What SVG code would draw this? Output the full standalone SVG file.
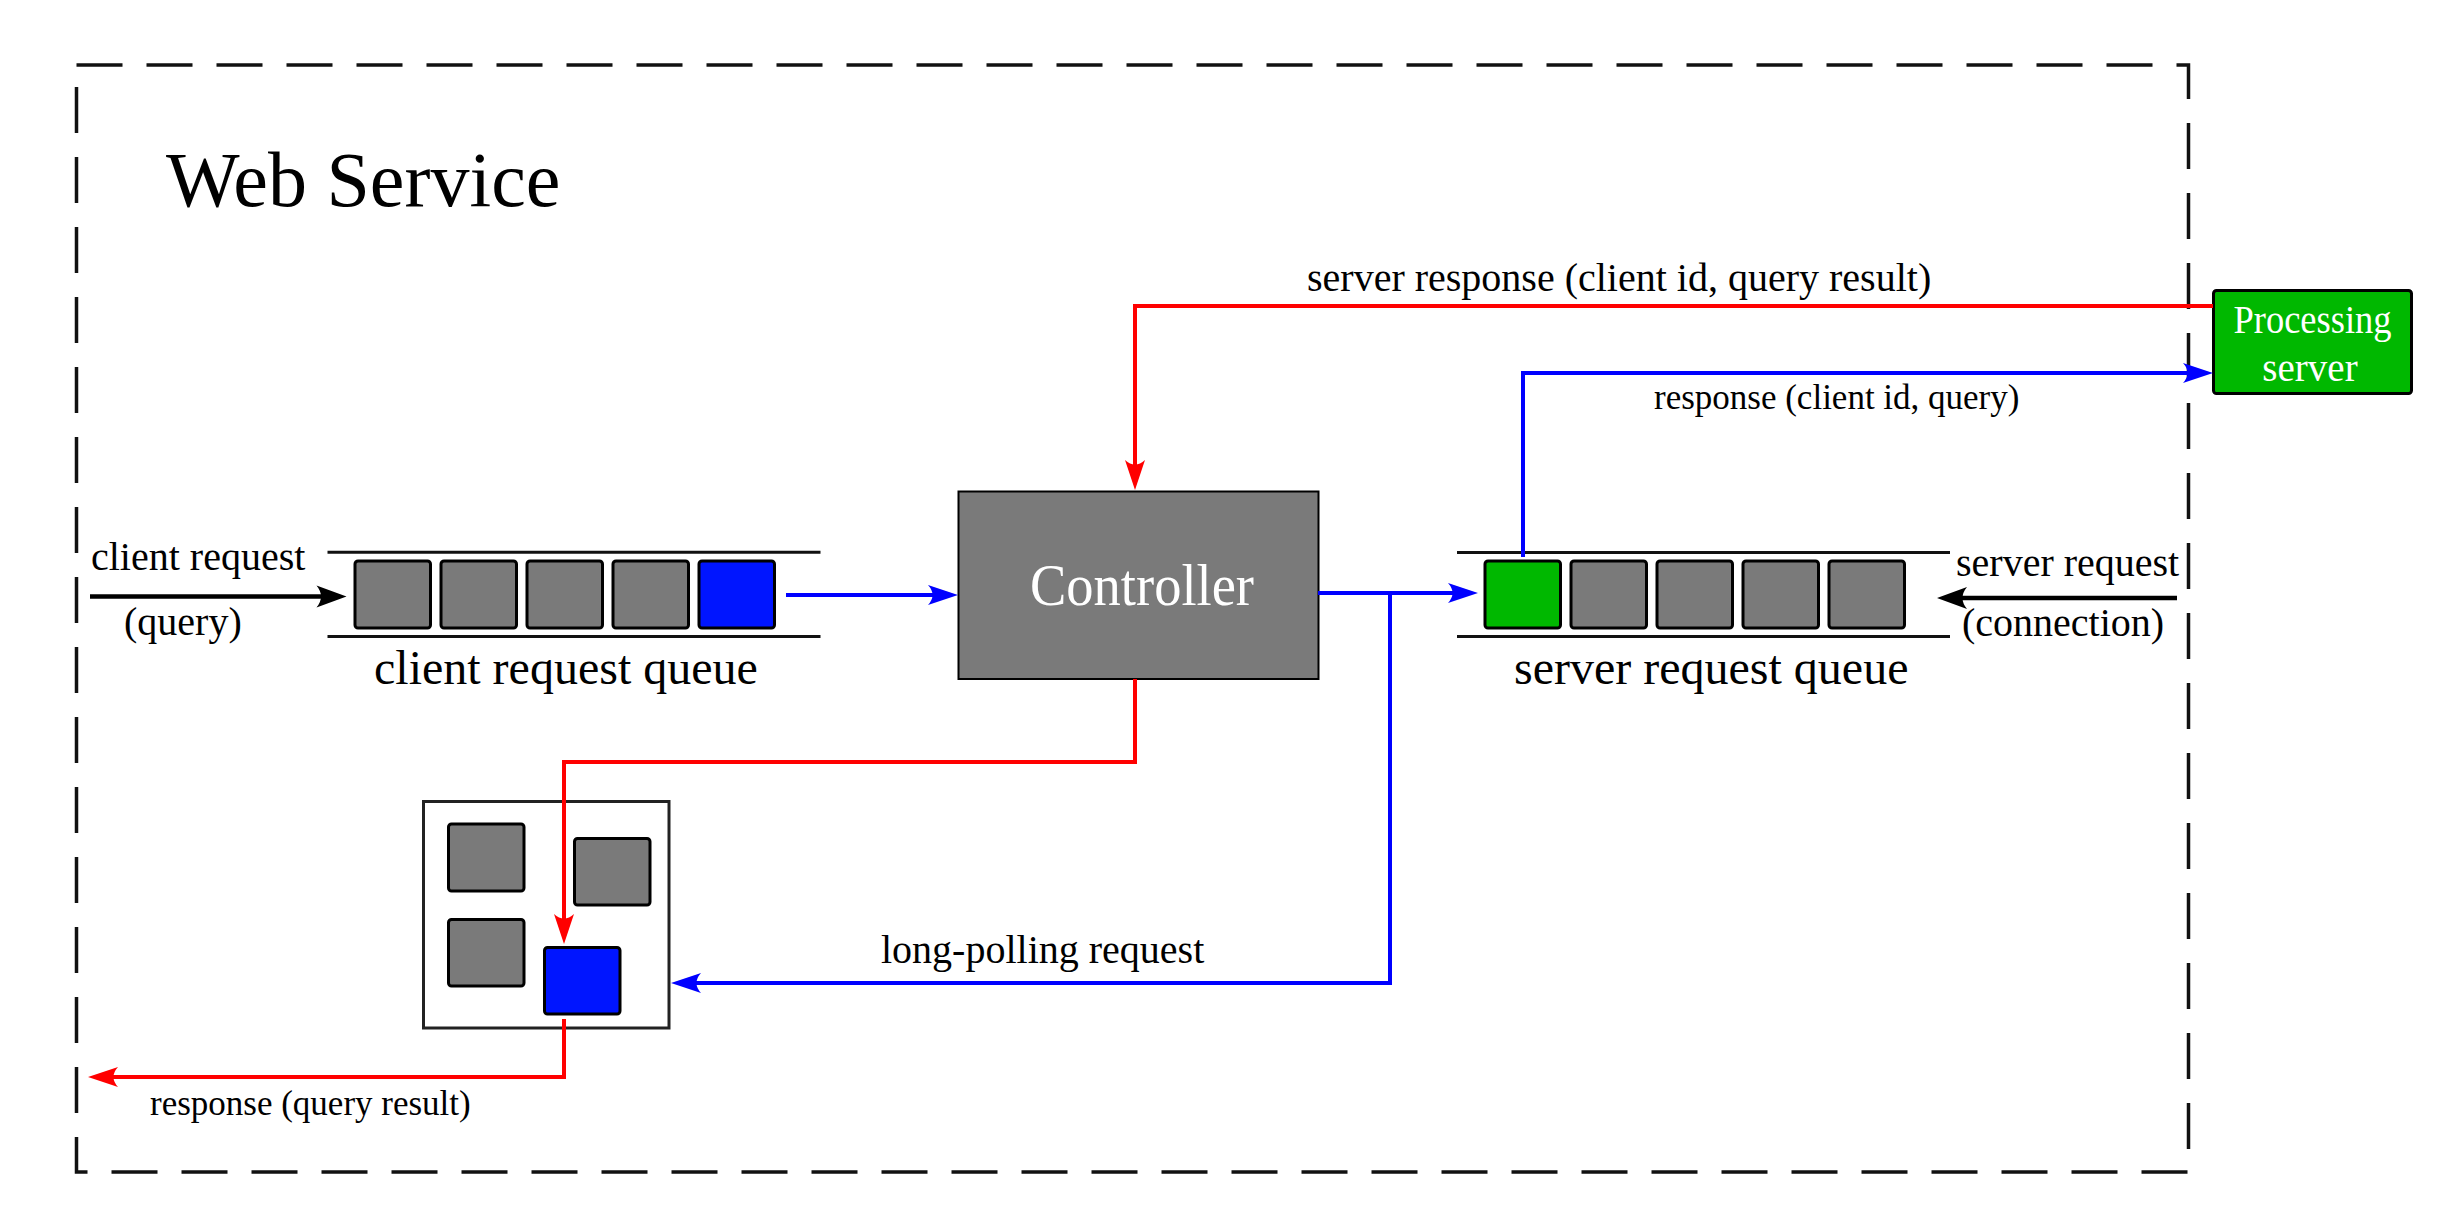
<svg xmlns="http://www.w3.org/2000/svg" width="2446" height="1228" viewBox="0 0 2446 1228">
<style>
  text { font-family: "Liberation Serif", "Times New Roman", serif; fill: #000; }
  .lbl { font-size: 40px; }
  .lbls { font-size: 35px; }
  .qlbl { font-size: 48px; }
  .cell { fill: #7a7a7a; stroke: #000; stroke-width: 3; }
  .cellb { fill: #0015ff; stroke: #000; stroke-width: 3; }
  .cellg { fill: #00b800; stroke: #000; stroke-width: 3; }
  .qline { stroke: #111; stroke-width: 3; }
  .red { fill: none; stroke: #ff0000; stroke-width: 4; marker-end: url(#ahr); }
  .blue { fill: none; stroke: #0000ff; stroke-width: 4; marker-end: url(#ahb); }
  .black { fill: none; stroke: #000; stroke-width: 4.7; marker-end: url(#ahk); }
</style>
<defs>
  <marker id="ahr" viewBox="-30 -15 40 30" refX="0" refY="0" markerUnits="userSpaceOnUse" markerWidth="40" markerHeight="30" orient="auto">
    <path d="M8,0 L-22,-10 Q-13,0 -22,10 Z" fill="#ff0000"/>
  </marker>
  <marker id="ahb" viewBox="-30 -15 40 30" refX="0" refY="0" markerUnits="userSpaceOnUse" markerWidth="40" markerHeight="30" orient="auto">
    <path d="M8,0 L-22,-10 Q-13,0 -22,10 Z" fill="#0000ff"/>
  </marker>
  <marker id="ahk" viewBox="-30 -15 40 30" refX="0" refY="0" markerUnits="userSpaceOnUse" markerWidth="40" markerHeight="30" orient="auto">
    <path d="M8,0 L-22,-11 Q-13,0 -22,11 Z" fill="#000"/>
  </marker>
</defs>
<rect width="2446" height="1228" fill="#fff"/>

<g id="web-service">
  <rect x="76.5" y="65" width="2112" height="1107" fill="none" stroke="#111" stroke-width="3.5" stroke-dasharray="46 24"/>
  <text x="166" y="206" font-size="78">Web Service</text>
</g>

<g id="client-request-queue">
  <line class="qline" x1="327.5" y1="552.3" x2="820.5" y2="552.3"/>
  <line class="qline" x1="327.5" y1="636.5" x2="820.5" y2="636.5"/>
  <rect class="cell" x="355" y="561" width="75.5" height="67" rx="3"/>
  <rect class="cell" x="441" y="561" width="75.5" height="67" rx="3"/>
  <rect class="cell" x="527" y="561" width="75.5" height="67" rx="3"/>
  <rect class="cell" x="613" y="561" width="75.5" height="67" rx="3"/>
  <rect class="cellb" x="699" y="561" width="75.5" height="67" rx="3"/>
  <text class="qlbl" x="374" y="684">client request queue</text>
</g>

<g id="controller">
  <rect x="958.5" y="491.5" width="360" height="187.5" fill="#7a7a7a" stroke="#000" stroke-width="2"/>
  <text x="1142" y="605" font-size="60" text-anchor="middle" textLength="224" lengthAdjust="spacingAndGlyphs" style="fill:#fff">Controller</text>
</g>

<g id="server-request-queue">
  <line class="qline" x1="1457" y1="552.5" x2="1950" y2="552.5"/>
  <line class="qline" x1="1457" y1="636.5" x2="1950" y2="636.5"/>
  <rect class="cellg" x="1485" y="561" width="75.5" height="67" rx="3"/>
  <rect class="cell" x="1571" y="561" width="75.5" height="67" rx="3"/>
  <rect class="cell" x="1657" y="561" width="75.5" height="67" rx="3"/>
  <rect class="cell" x="1743" y="561" width="75.5" height="67" rx="3"/>
  <rect class="cell" x="1829" y="561" width="75.5" height="67" rx="3"/>
  <text class="qlbl" x="1514" y="684">server request queue</text>
</g>

<g id="processing-server">
  <rect x="2213.5" y="290.5" width="198" height="103" rx="3" fill="#00b800" stroke="#000" stroke-width="3"/>
  <text x="2312.5" y="332.7" font-size="39" text-anchor="middle" textLength="158" lengthAdjust="spacingAndGlyphs" style="fill:#fff">Processing</text>
  <text x="2310" y="380.7" font-size="39" text-anchor="middle" style="fill:#fff">server</text>
</g>

<g id="long-polling-pool">
  <rect x="423.5" y="801.5" width="245.5" height="226.5" fill="#fff" stroke="#222" stroke-width="3"/>
  <rect class="cell" x="448.5" y="824" width="75.5" height="67" rx="3"/>
  <rect class="cell" x="574.5" y="838.5" width="75.5" height="66.5" rx="3"/>
  <rect class="cell" x="448.5" y="919.5" width="75.5" height="66.5" rx="3"/>
  <rect class="cellb" x="544.5" y="947.5" width="75.5" height="66.5" rx="3"/>
</g>

<g id="connectors">
  <line class="black" x1="90" y1="596.5" x2="338.5" y2="596.5"/>
  <line class="black" x1="2177" y1="598" x2="1945" y2="598"/>
  <line class="blue" x1="786" y1="595" x2="950" y2="595"/>
  <line class="blue" x1="1318" y1="593" x2="1470" y2="593"/>
  <polyline class="blue" points="1390,593 1390,983 679,983"/>
  <polyline class="blue" points="1523,557 1523,373 2205,373"/>
  <polyline class="red" points="2213,306 1135,306 1135,482"/>
  <polyline class="red" points="1135,679 1135,762 564,762 564,936"/>
  <polyline class="red" points="564,1019 564,1077 96,1077"/>
  <text class="lbl" x="91" y="570">client request</text>
  <text class="lbl" x="124" y="635">(query)</text>
  <text class="lbl" x="1956" y="576">server request</text>
  <text class="lbl" x="1962" y="635.5">(connection)</text>
  <text class="lbl" x="1307" y="290.5">server response (client id, query result)</text>
  <text class="lbls" x="1654" y="409">response (client id, query)</text>
  <text class="lbl" x="881" y="962.5">long-polling request</text>
  <text class="lbls" x="150" y="1115">response (query result)</text>
</g>
</svg>
